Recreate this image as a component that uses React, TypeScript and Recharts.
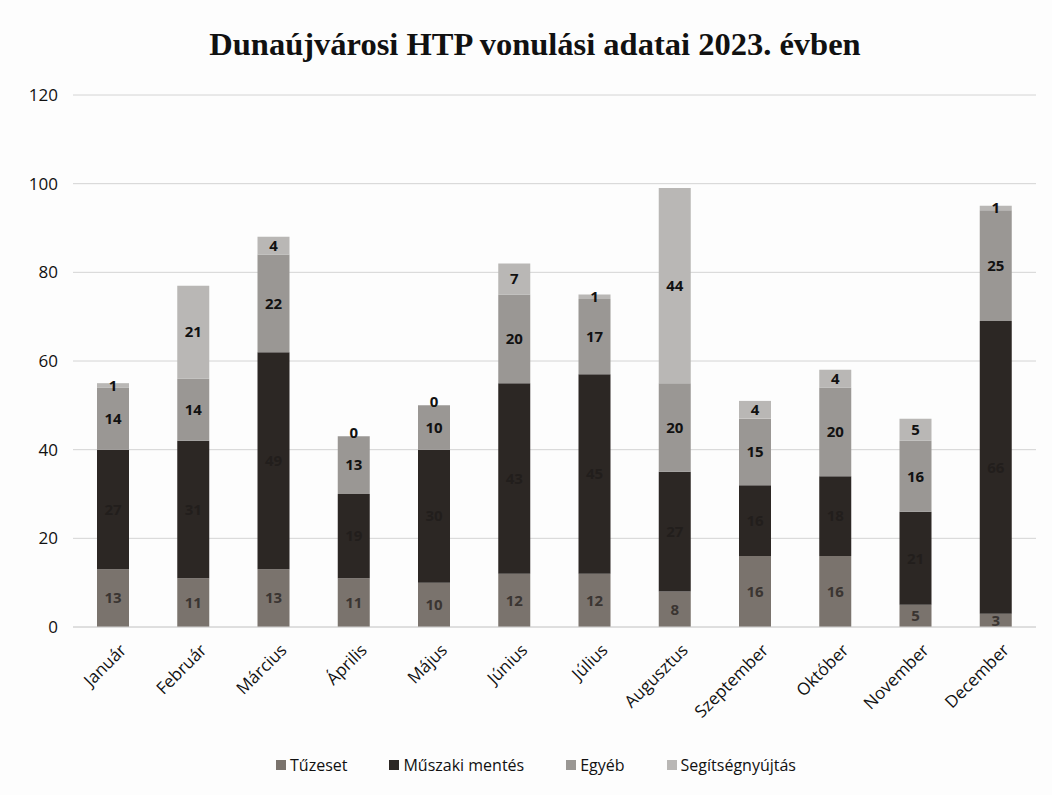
import { BarChart, Bar, XAxis, YAxis, CartesianGrid, Legend, LabelList } from 'recharts'

const months = ['Január', 'Február', 'Március', 'Április', 'Május', 'Június', 'Július', 'Augusztus', 'Szeptember', 'Október', 'November', 'December']
const tuzeset = [13, 11, 13, 11, 10, 12, 12, 8, 16, 16, 5, 3]
const muszaki = [27, 31, 49, 19, 30, 43, 45, 27, 16, 18, 21, 66]
const egyeb = [14, 14, 22, 13, 10, 20, 17, 20, 15, 20, 16, 25]
const segitseg = [1, 21, 4, 0, 0, 7, 1, 44, 4, 4, 5, 1]
const yTicks = [0, 20, 40, 60, 80, 100, 120]

const series = [
  { key: 'tuzeset', name: 'Tűzeset', color: '#7a736d', label: '#3a3532' },
  { key: 'muszaki', name: 'Műszaki mentés', color: '#2c2724', label: '#221e1c' },
  { key: 'egyeb', name: 'Egyéb', color: '#9a9794', label: '#111' },
  { key: 'segitseg', name: 'Segítségnyújtás', color: '#b9b7b5', label: '#111' },
]

const data = months.map((m, i) => ({
  month: m,
  tuzeset: tuzeset[i],
  muszaki: muszaki[i],
  egyeb: egyeb[i],
  segitseg: segitseg[i],
}))

const font = '"Open Sans", "Liberation Sans", sans-serif'

const MonthTick = ({ x, y, payload }: any) => (
  <g transform={`translate(${x + 10},${y + 12})`}>
    <text textAnchor="end" transform="rotate(-45)" dy="0.35em" fill="#111" fontSize={17} fontFamily={font}>
      {payload.value}
    </text>
  </g>
)

const LegendContent = () => (
  <div style={{ display: 'flex', justifyContent: 'center', gap: 42, fontFamily: font, fontSize: 16, color: '#111' }}>
    {series.map(s => (
      <div key={s.key} style={{ display: 'flex', alignItems: 'center', gap: 4 }}>
        <span style={{ width: 10, height: 10, background: s.color, display: 'inline-block' }} />
        <span>{s.name}</span>
      </div>
    ))}
  </div>
)

// label in the middle of each segment; zero-height Segítségnyújtás segments get no rect,
// so their "0" is drawn on the top edge of the Egyéb segment below
const makeLabel = (fill: string, key: string) => (props: any) => {
  const { x, y, width, height, value, index } = props
  if (value == null) return null
  const cx = Number(x) + Number(width) / 2
  const zeroTop = key === 'egyeb' && segitseg[index] === 0
  return (
    <g>
      <text x={cx} y={Number(y) + Number(height) / 2} dy="0.35em" textAnchor="middle"
        fill={fill} fontSize={15} fontWeight="bold" fontFamily={font}>
        {value}
      </text>
      {zeroTop && (
        <text x={cx} y={Number(y)} dy="0.1em" textAnchor="middle" fill="#111" fontSize={15} fontWeight="bold" fontFamily={font}>
          {segitseg[index]}
        </text>
      )}
    </g>
  )
}

export default function App() {
  return (
    <div style={{ position: 'absolute', left: 0, top: 0, width: 1052, height: 795, background: '#fdfdfd' }}>
      <div style={{ position: 'absolute', top: 26, left: 0, width: 1070, textAlign: 'center', fontFamily: '"Liberation Serif", serif', fontWeight: 'bold', fontSize: 32.5, color: '#111' }}>
        Dunaújvárosi HTP vonulási adatai 2023. évben
      </div>
      <BarChart width={1052} height={795} data={data} margin={{ top: 95, right: 16, bottom: 138, left: 0 }} barSize={32}>
        <CartesianGrid vertical={false} stroke="#d4d4d4" />
        <XAxis dataKey="month" tick={<MonthTick />} tickLine={false} axisLine={{ stroke: '#d4d4d4' }} interval={0} />
        <YAxis width={73} domain={[0, 120]} ticks={yTicks} tickLine={false} axisLine={false} tickMargin={9}
          tick={{ fill: '#111', fontSize: 17, fontFamily: font }} />
        <Legend verticalAlign="middle" content={<LegendContent />} wrapperStyle={{ top: 754, left: 10, width: 1052 }} />
        {series.map(s => (
          <Bar key={s.key} dataKey={s.key} name={s.name} stackId="a" fill={s.color} isAnimationActive={false}>
            <LabelList dataKey={s.key} content={makeLabel(s.label, s.key)} />
          </Bar>
        ))}
      </BarChart>
    </div>
  )
}
